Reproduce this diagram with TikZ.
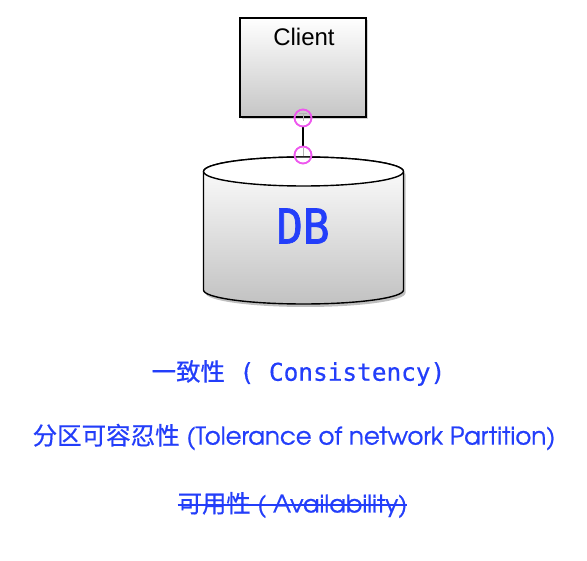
\documentclass[tikz,border=0pt]{standalone}
\usepackage{fontspec}
\setmainfont{Liberation Sans}
\newfontfamily\cjk[FakeBold=0.6]{Noto Sans CJK SC}
\newfontfamily\monof[FakeBold=0.5]{DejaVu Sans Mono}
\newfontfamily\monodb[FakeBold=1.6]{DejaVu Sans Mono}
\newfontfamily\geof[FakeBold=0.8]{TeX Gyre Adventor}
\usetikzlibrary{shadows}
\definecolor{txtblue}{RGB}{35,62,250}
\definecolor{pinkm}{RGB}{238,88,238}
\tikzset{
  clientbox/.style={draw=black, line width=1.6pt, top color=white, bottom color=gray!45,
    minimum width=126pt, minimum height=99pt, inner sep=0pt,
    drop shadow={opacity=0.35, shadow xshift=1.5pt, shadow yshift=-2pt}},
  port/.style={circle, draw=pinkm, line width=1.6pt, minimum size=17pt, inner sep=0pt},
  caption/.style={text=txtblue, inner sep=0pt, anchor=center},
}
\begin{document}
\begin{tikzpicture}[x=1pt,y=-1pt]
\useasboundingbox[fill=white] (0,0) rectangle (587,561);
% client
\node[clientbox] (client) at (303,67.5) {};
\node[font=\fontsize{24}{24}\selectfont, inner sep=0pt] (clientlabel) at (304,37) {Client};
% cylinder shadow
\fill[black, opacity=0.25] (205.5,174.5) -- (205.5,293) arc[start angle=180,end angle=0,x radius=100,y radius=14] -- (405.5,174.5) arc[start angle=0,end angle=-180,x radius=100,y radius=14.5] -- cycle;
% cylinder body
\shade[top color=white, bottom color=gray!48, draw=black, line width=1.4pt] (203.5,171.5) -- (203.5,290) arc[start angle=180,end angle=0,x radius=100,y radius=14] -- (403.5,171.5) arc[start angle=0,end angle=-180,x radius=100,y radius=14.5] -- cycle;
\draw[line width=1.4pt, fill=white] (303.5,171.5) ellipse[x radius=100, y radius=14.5];
\coordinate (dbtop) at (303.5,157);
\node[caption, font=\monodb\fontsize{48}{48}\selectfont, xscale=0.92] (db) at (303,226) {DB};
% connector with ports
\node[port] (p1) at (303,118) {};
\node[port] (p2) at (303,155) {};
\draw[gray!60, line width=0.8pt] (299,113) -- (307,113) (303,113) -- (303,121);
\draw[gray!60, line width=0.8pt] (303,148) -- (303,156);
\draw[black, line width=1.3pt] (p1) -- (p2);
\node[port] at (p1) {};
\node[port] at (p2) {};
% captions
\node[caption, font=\fontsize{24.4}{24.4}\selectfont] (cons) at (298.5,373) {{\cjk 一致性}{\monof\ ( Consistency)}};
\node[caption, font=\fontsize{24.5}{24.5}\selectfont] (part) at (294,437) {{\cjk 分区可容忍性} {\geof (Tolerance of network Partition)}};
\node[caption, font=\fontsize{24.3}{24.3}\selectfont] (avail) at (292.5,505) {{\cjk 可用性} {\geof ( Availability)}};
\draw[txtblue, line width=1.4pt] (avail.west |- 0,505) -- (avail.east |- 0,505);
\end{tikzpicture}
\end{document}
